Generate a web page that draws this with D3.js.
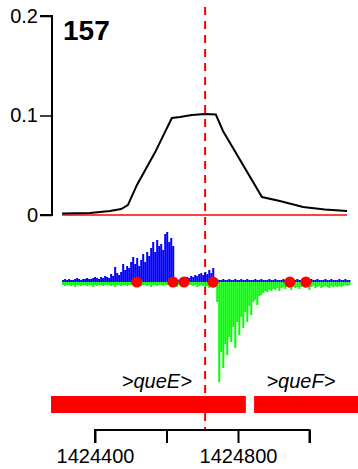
<!DOCTYPE html>
<html><head><meta charset="utf-8">
<script src="https://cdn.jsdelivr.net/npm/d3@7/dist/d3.min.js"></script>
<style>body{margin:0;background:#fff}svg{display:block;font-family:"Liberation Sans",Arial,sans-serif}</style>
</head><body>
<script>
// ---- data ----
const panelLabel = "157";
const markerPos = 1424708;
const yTicks = [0, 0.1, 0.2];
const xTicks = [1424400, 1424600, 1424800, 1425000];
const xTickLabels = ["1424400", "", "1424800", ""];
const curvePos = [1424308,1424386,1424442,1424473,1424492,1424517,1424568,1424615,1424638,1424671,1424708,1424738,1424758,1424867,1424917,1424982,1425043,1425105];
const curveVal = [0.0015,0.002,0.004,0.006,0.010,0.030,0.063,0.0975,0.0985,0.1005,0.1015,0.101,0.0845,0.018,0.014,0.008,0.0055,0.004];
const binStart = 1424308, binWidth = 5.6;
const plusSignal = [2,3,2,3,2,2,3,4,3,2,3,3,4,3,
 3,4,5,4,3,5,4,6,5,4,
 8,6,15,9,7,10,18,12,16,
 14,20,25,18,24,16,22,28,20,30,
 26,34,40,30,42,36,38,32,48,50,40,44,36,
 4,3,2,3,4,3,5,4,6,5,
 7,6,8,9,7,10,8,12,9,14,
 4,3,2,2,3,2,2,3,2,2,
 3,2,2,3,2,2,3,2,2,2,
 3,2,2,3,2,2,2,3,2,2,
 3,2,2,2,3,2,2,3,2,2,
 2,3,2,2,3,2,2,2,3,2,
 2,3,2,2,2,3,2,2,3,2,
 2,2,3,2,2,3,2,2];
const minusSignal = [-3,-4,-3,-3,-4,-3,-5,-3,-3,-4,
 -3,-3,-4,-3,-3,-5,-3,-4,-3,-3,
 -4,-3,-3,-3,-4,-3,-5,-3,-3,-4,
 -3,-3,-4,-3,-3,-3,-4,-3,-3,-4,
 -3,-3,-4,-3,-5,-3,-3,-4,-3,-3,
 -4,-3,-3,-3,-4,-3,-3,-5,-3,-4,
 -3,-3,-4,-3,-3,-4,-3,-5,-4,-3,
 -4,-5,-4,-6,-5,-6,
 -5,-20,-100,-70,-86,-62,-73,-55,-60,-45,-66,-40,-53,-35,-46,-30,-40,-24,-33,-20,-18,-23,-14,-13,-11,-9,-10,-8,-9,-7,-8,-6,-9,-6,
 -5,-7,-5,-6,-8,-5,-6,-5,-7,-5,-4,-6,-5,-8,-5,-4,-6,-5,-4,-6,-5,-4,-5,-6,-4,-5,-4,-5,-4,-5,-4,-3,-4,-3];
const sitePos = [1424517,1424618,1424649,1424730,1424945,1424990];
const geneNames = [">queE>", ">queF>"];
const geneStart = [1424277, 1424845];
const geneEnd = [1424822, 1425200];
const geneLabelAt = [1424573, 1424976];

// ---- drawing ----
const W = 358, H = 469;
const svg = d3.select("body").append("svg").attr("width", W).attr("height", H);
const x = d3.scaleLinear().domain([1424400, 1424800]).range([95, 238]);
const y = d3.scaleLinear().domain([0, 0.2]).range([215, 16]);
const ys = d3.scaleLinear().domain([-100, 50]).range([382, 232]);
const red = "#ff0000";
const FF = "Liberation Sans, Arial, sans-serif";

// dashed marker
svg.append("line").attr("x1", x(markerPos)).attr("x2", x(markerPos))
  .attr("y1", 7).attr("y2", 430).attr("stroke", red).attr("stroke-width", 2)
  .attr("stroke-dasharray", "8,6");

// y axis
const ya = svg.append("g").attr("transform", "translate(52,0)")
  .call(d3.axisLeft(y).tickValues(yTicks).tickFormat(d => d === 0 ? "0" : d3.format(".1f")(d)).tickSize(12).tickPadding(2));
ya.select(".domain").attr("d", `M-12,${y(0.2)}H0V${y(0)}H-12`).attr("stroke", "#000").attr("stroke-width", 2);
ya.selectAll(".tick line").attr("stroke-width", 1.5);
ya.selectAll("text").attr("font-size", 20).attr("fill", "#000").attr("font-family", FF);

svg.append("text").attr("x", 63).attr("y", 40).attr("font-size", 28).attr("font-weight", "bold").text(panelLabel);

// zero line + curve
const xr = d3.extent(curvePos);
svg.append("line").attr("x1", x(xr[0])).attr("x2", x(xr[1])).attr("y1", y(0)).attr("y2", y(0))
  .attr("stroke", red).attr("stroke-width", 1.5);
svg.append("path").datum(curvePos.map((p, i) => [p, curveVal[i]]))
  .attr("d", d3.line().x(d => x(d[0])).y(d => y(d[1])))
  .attr("fill", "none").attr("stroke", "#000").attr("stroke-width", 2);

// signal bars
svg.append("g").selectAll("rect").data(plusSignal).join("rect")
  .attr("x", (d, i) => x(binStart + i * binWidth)).attr("width", x(binStart + binWidth) - x(binStart))
  .attr("y", d => ys(d)).attr("height", d => ys(0) - ys(d)).attr("fill", "#0000ff");
svg.append("g").selectAll("rect").data(minusSignal).join("rect")
  .attr("x", (d, i) => x(binStart + i * binWidth)).attr("width", x(binStart + binWidth) - x(binStart))
  .attr("y", ys(0)).attr("height", d => ys(d) - ys(0)).attr("fill", "#00ff00");
svg.append("g").selectAll("circle").data(sitePos).join("circle")
  .attr("cx", d => x(d)).attr("cy", ys(0)).attr("r", 5.5).attr("fill", red);

// genes
svg.append("g").selectAll("rect").data(geneNames).join("rect")
  .attr("x", (d, i) => x(geneStart[i])).attr("width", (d, i) => x(geneEnd[i]) - x(geneStart[i]))
  .attr("y", 396).attr("height", 17).attr("fill", red);
svg.append("g").selectAll("text").data(geneNames).join("text")
  .attr("x", (d, i) => x(geneLabelAt[i])).attr("y", 388).attr("text-anchor", "middle")
  .attr("font-size", 20).attr("font-style", "italic").attr("font-family", FF).text(d => d);

// x axis
const xa = svg.append("g").attr("transform", "translate(0,430)")
  .call(d3.axisBottom(x).tickValues(xTicks).tickFormat((d, i) => xTickLabels[i]).tickSize(13).tickPadding(6));
xa.select(".domain").attr("d", `M${x(xTicks[0])},13V0H${x(xTicks[3])}V13`).attr("stroke-width", 2);
xa.selectAll(".tick line").attr("stroke-width", 2);
xa.selectAll("text").attr("font-size", 20).attr("fill", "#000").attr("font-family", FF);
</script>
</body></html>
